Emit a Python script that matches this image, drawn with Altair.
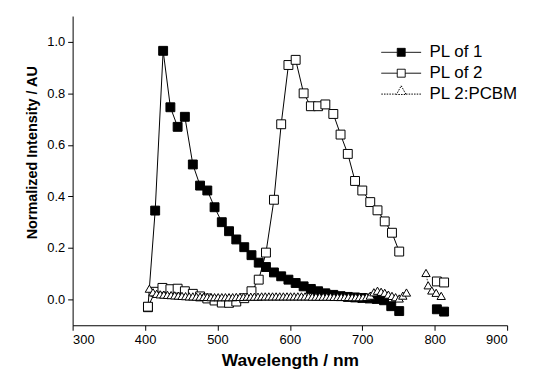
import altair as alt
import pandas as pd

# ---------------- data ----------------
series_names = ["PL of 1", "PL of 2", "PL 2:PCBM"]

nm_pl1 = [404, 414, 425, 435, 445, 455, 466, 476, 486, 496, 506, 516, 526, 537,
          547, 557, 567, 578, 588, 598, 608, 619, 629, 639, 649, 660, 670, 680,
          690, 700, 710, 720, 730, 740, 751, 803, 813]
val_pl1 = [-0.03, 0.345, 0.965, 0.746, 0.67, 0.709, 0.524, 0.442, 0.423, 0.358,
           0.300, 0.265, 0.233, 0.203, 0.172, 0.143, 0.126, 0.105, 0.090, 0.077,
           0.064, 0.051, 0.041, 0.032, 0.024, 0.018, 0.013, 0.010, 0.008, 0.006,
           0.004, 0.002, -0.003, -0.026, -0.045, -0.038, -0.047]

nm_pl2 = [404, 414, 424, 435, 445, 455, 466, 476, 486, 496, 506, 516, 526, 537,
          547, 557, 567, 578, 588, 598, 608, 619, 629, 639, 649, 660, 670, 680,
          690, 700, 711, 721, 731, 741, 751, 803, 813]
val_pl2 = [-0.028, 0.030, 0.045, 0.040, 0.042, 0.032, 0.022, 0.012, 0.004, -0.004,
           -0.012, -0.013, -0.008, 0.005, 0.032, 0.077, 0.182, 0.387, 0.680, 0.910,
           0.930, 0.800, 0.750, 0.750, 0.757, 0.720, 0.640, 0.565, 0.460, 0.423,
           0.378, 0.346, 0.303, 0.259, 0.186, 0.070, 0.066]

nm_pcbm = [406, 411, 416, 421, 426, 431, 436, 441, 446, 451, 456, 461, 466, 471,
           476, 481, 486, 491, 496, 501, 506, 511, 516, 521, 526, 531, 536, 541,
           546, 551, 556, 561, 566, 571, 576, 581, 586, 591, 596, 601, 606, 611,
           616, 621, 626, 631, 636, 641, 646, 651, 656, 661, 666, 671, 676, 681,
           686, 691, 696, 701, 706, 711, 716, 721, 726, 731, 736, 741, 746, 751,
           756, 761, 788, 791, 796, 802, 809]
val_pcbm = [0.042, 0.028, 0.022, 0.020, 0.019, 0.018, 0.017, 0.016, 0.015, 0.014,
            0.013, 0.012, 0.012, 0.011, 0.011, 0.010, 0.010, 0.009, 0.009, 0.009,
            0.009, 0.009, 0.009, 0.009, 0.010, 0.010, 0.010, 0.011, 0.011, 0.011,
            0.011, 0.012, 0.012, 0.012, 0.012, 0.012, 0.012, 0.012, 0.012, 0.012,
            0.012, 0.012, 0.012, 0.012, 0.012, 0.011, 0.011, 0.011, 0.011, 0.011,
            0.011, 0.010, 0.010, 0.010, 0.010, 0.010, 0.009, 0.009, 0.009, 0.009,
            0.010, 0.015, 0.028, 0.034, 0.030, 0.026, 0.019, 0.014, 0.009, 0.004,
            0.015, 0.027, 0.103, 0.055, 0.035, 0.026, 0.014]

x_ticks = [300, 400, 500, 600, 700, 800, 900]
y_ticks = [0.0, 0.2, 0.4, 0.6, 0.8, 1.0]
GAP_NM = 770  # data are missing between ~760 and ~785 nm

rows = []
for name, xs, ys in [(series_names[0], nm_pl1, val_pl1),
                     (series_names[1], nm_pl2, val_pl2),
                     (series_names[2], nm_pcbm, val_pcbm)]:
    for xv, yv in zip(xs, ys):
        rows.append({"series": name, "nm": xv, "value": yv,
                     "seg": f"{name}-{int(xv > GAP_NM)}"})
df = pd.DataFrame(rows)

FONT = "Liberation Sans"

x_enc = alt.X("nm:Q",
              scale=alt.Scale(domain=[300, 900], nice=False, zero=False),
              axis=alt.Axis(values=x_ticks, title="Wavelength / nm", format="d",
                            titleFontSize=17.5, titlePadding=5))
y_enc = alt.Y("value:Q",
              scale=alt.Scale(domain=[-0.1, 1.1], nice=False, zero=False),
              axis=alt.Axis(values=y_ticks, title="Normalized Intensity / AU", format=".1f",
                            titleFontSize=14.5, titlePadding=7, titleY=137))

base = alt.Chart(df)


def series_layers(name, line_kw, point_kw):
    d = base.transform_filter(alt.datum.series == name)
    line = d.mark_line(**line_kw).encode(x=x_enc, y=y_enc, detail="seg:N")
    pts = d.mark_point(**point_kw).encode(x=x_enc, y=y_enc)
    return [line, pts]


layers = []
layers += series_layers(series_names[0],
                        dict(color="black", strokeWidth=1),
                        dict(shape="square", size=80, filled=True, fill="black",
                             stroke="black", strokeWidth=1, opacity=1))
layers += series_layers(series_names[1],
                        dict(color="black", strokeWidth=1),
                        dict(shape="square", size=80, filled=True, fill="white",
                             stroke="black", strokeWidth=1, opacity=1))
layers += series_layers(series_names[2],
                        dict(color="#333333", strokeWidth=1, strokeDash=[1.5, 1.5]),
                        dict(shape="triangle-up", size=70, filled=True, fill="white",
                             stroke="black", strokeWidth=1, opacity=1))

# legend: line + marker symbols
legend_paths = [
    "M-1,0L-0.2,0M0.2,0L1,0M-0.2,-0.2L0.2,-0.2L0.2,0.2L-0.2,0.2Z",
    "M-1,0L-0.2,0M0.2,0L1,0M-0.2,-0.2L0.2,-0.2L0.2,0.2L-0.2,0.2Z",
    "M-1,0L-0.24,0M0.24,0L1,0M0,-0.42L0.24,0.02L-0.24,0.02Z",
]
legend_fills = ["black", "white", "white"]
legend_strokes = ["black", "black", "black"]
legend_dashes = [[1, 0], [1, 0], [1.5, 1.2]]

leg_def = alt.Legend(title=None, orient="none", legendX=310, legendY=27,
                     padding=0, clipHeight=19, rowPadding=2, labelOffset=8,
                     labelFont=FONT, labelFontSize=17, labelColor="black",
                     symbolSize=1600, symbolStrokeWidth=1,
                     symbolStrokeColor="black", symbolOpacity=1)

legend_df = pd.DataFrame({"series": series_names})
legend_layer = alt.Chart(legend_df).transform_filter("false").mark_point(
    filled=True, opacity=1, strokeWidth=1
).encode(
    shape=alt.Shape("series:N", scale=alt.Scale(domain=series_names, range=legend_paths), legend=leg_def),
    fill=alt.Fill("series:N", scale=alt.Scale(domain=series_names, range=legend_fills), legend=leg_def),
    stroke=alt.Stroke("series:N", scale=alt.Scale(domain=series_names, range=legend_strokes), legend=leg_def),
    strokeDash=alt.StrokeDash("series:N", scale=alt.Scale(domain=series_names, range=legend_dashes), legend=leg_def),
)
layers.append(legend_layer)

chart = alt.layer(*layers).properties(
    width=437, height=311,
    autosize=alt.AutoSizeParams(type="none"),
    padding={"left": 65, "top": 7, "right": 20, "bottom": 60},
).configure_view(stroke=None).configure_axis(
    grid=False, domainColor="black", tickColor="black", labelColor="black",
    titleColor="black", labelFont=FONT, titleFont=FONT, labelFontSize=13,
    titleFontWeight="bold", tickSize=5, labelPadding=3,
    domainWidth=1, tickWidth=1,
)

chart.save("out.html", embed_options={"renderer": "svg", "actions": False})
